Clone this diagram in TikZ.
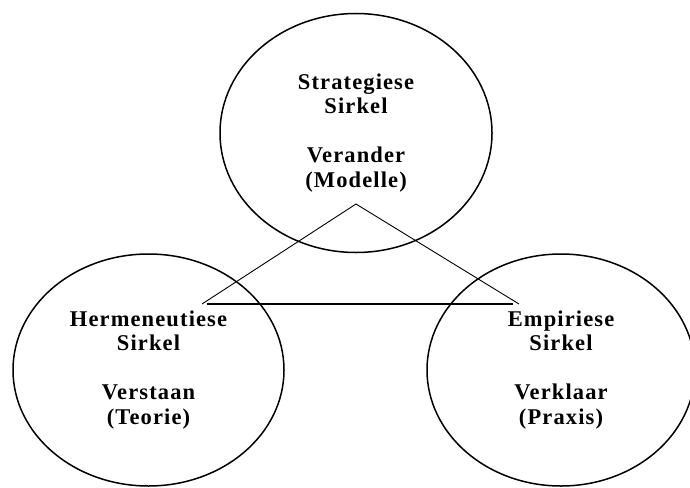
\documentclass[tikz,border=0pt]{standalone}
\usepackage{fontspec}
\newfontfamily\lblfont{Liberation Serif}[LetterSpace=5]
\usetikzlibrary{shapes.geometric}
\begin{document}
\begin{tikzpicture}[x=1pt,y=-1pt,
  circ/.style={ellipse,draw,line width=1.5pt,inner sep=0pt,align=center,
    font=\lblfont\bfseries\fontsize{22.5}{24.5}\selectfont},
  thinline/.style={line width=0.9pt},
  baseline/.style={line width=2pt}]
\useasboundingbox (0,0) rectangle (690,487);
\node[circ,minimum width=272pt,minimum height=239pt] (top) at (356,133)
  {Strategiese\\Sirkel\\[24.5pt]Verander\\(Modelle)};
\node[circ,minimum width=271pt,minimum height=232pt] (left) at (148.5,370)
  {Hermeneutiese\\Sirkel\\[24.5pt]Verstaan\\(Teorie)};
\node[circ,minimum width=268pt,minimum height=232pt] (right) at (561,370)
  {Empiriese\\Sirkel\\[24.5pt]Verklaar\\(Praxis)};
\coordinate (apex) at (356,204);
\coordinate (bl) at (202,304);
\coordinate (br) at (519,304);
\coordinate (hl) at (207,304);
\coordinate (hr) at (513,304);
\draw[thinline] (bl) -- (apex) -- (br);
\draw[baseline] (hl) -- (hr);
\end{tikzpicture}
\end{document}
